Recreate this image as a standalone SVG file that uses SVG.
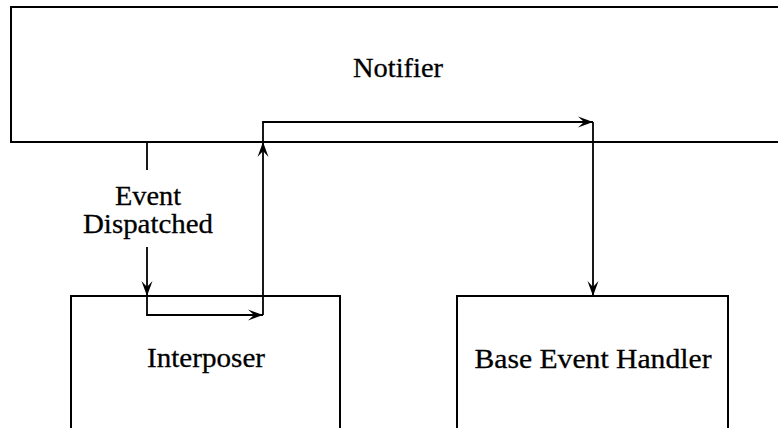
<svg xmlns="http://www.w3.org/2000/svg" width="778" height="428" viewBox="0 0 778 428">
<style>
.box{fill:none;stroke:#000;stroke-width:2}
.conn{fill:none;stroke:#000;stroke-width:1.8}
text{font-family:"Liberation Serif","Times New Roman",serif;font-size:28px;fill:#000;stroke:#000;stroke-width:0.3;text-anchor:middle}
</style>
<defs>
<marker id="ah" viewBox="-16 -7 18 14" markerWidth="18" markerHeight="14" refX="0" refY="0" orient="auto" markerUnits="userSpaceOnUse">
<path d="M0,0 L-15,-5.5 L-9,0 L-15,5.5 Z" fill="#000"/>
</marker>
</defs>
<rect width="778" height="428" fill="#fff" stroke="none"/>
<g id="notifier">
<path class="box" d="M790,7 H11 V142 H790"/>
<text x="398" y="77" textLength="90" lengthAdjust="spacingAndGlyphs">Notifier</text>
</g>
<g id="interposer">
<path class="box" d="M71,430 V296 H340 V430"/>
<text x="206" y="367" textLength="118" lengthAdjust="spacingAndGlyphs">Interposer</text>
</g>
<g id="base-event-handler">
<path class="box" d="M457,430 V296 H728 V430"/>
<text x="593" y="368" textLength="237" lengthAdjust="spacingAndGlyphs">Base Event Handler</text>
</g>
<g id="label-event-dispatched">
<text x="148" y="205" textLength="66" lengthAdjust="spacingAndGlyphs">Event</text>
<text x="148" y="233" textLength="130" lengthAdjust="spacingAndGlyphs">Dispatched</text>
</g>
<g id="connectors">
<line class="conn" x1="147" y1="142" x2="147" y2="170"/>
<line class="conn" x1="147" y1="247" x2="147" y2="296" marker-end="url(#ah)"/>
<path class="conn" d="M147,296 V315 H263" marker-end="url(#ah)"/>
<path class="conn" d="M263,315 V142" marker-end="url(#ah)"/>
<path class="conn" d="M263,142 V122 H593" marker-end="url(#ah)"/>
<path class="conn" d="M593,122 V296" marker-end="url(#ah)"/>
</g>
</svg>
